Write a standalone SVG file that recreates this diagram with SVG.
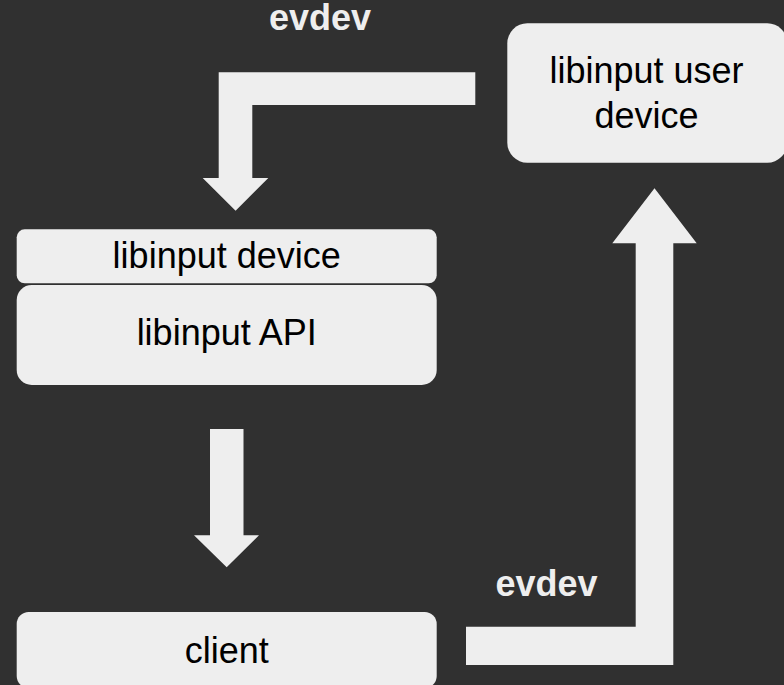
<svg xmlns="http://www.w3.org/2000/svg" width="784" height="685" viewBox="0 0 784 685">
  <style>
    .box { fill: #eeeeee; }
    .label { font-family: "Liberation Sans", Arial, sans-serif; font-size: 36px; fill: #000000; text-anchor: middle; }
    .edge-label { font-family: "Liberation Sans", Arial, sans-serif; font-size: 36px; font-weight: bold; fill: #eeeeee; text-anchor: middle; }
    .arrow { fill: #eeeeee; }
  </style>
  <rect x="0" y="0" width="784" height="685" fill="#303030"/>

  <g id="connectors">
    <!-- user device back into the libinput device stack -->
    <path class="arrow" d="M475.3,72.3 L218.7,72.3 L218.7,178 L202.7,178 L235.6,210.7 L268.3,178 L252.3,178 L252.3,105 L475.3,105 Z"/>
    <!-- libinput API down to the client -->
    <path class="arrow" d="M210,429 L243.5,429 L243.5,535.3 L259,535.3 L226.7,567.3 L194,535.3 L210,535.3 Z"/>
    <!-- client up to the user device -->
    <path class="arrow" d="M466,626.7 L635.7,626.7 L635.7,243.3 L612.3,243.3 L654.5,188.3 L696.7,243.3 L673.3,243.3 L673.3,665 L466,665 Z"/>
    <text class="edge-label" x="320" y="30">evdev</text>
    <text class="edge-label" x="546.5" y="595.7">evdev</text>
  </g>

  <g id="user-device">
    <rect class="box" x="507.3" y="23.3" width="280" height="139.4" rx="20"/>
    <text class="label" x="646.5" y="83">libinput user</text>
    <text class="label" x="646.5" y="128">device</text>
  </g>

  <g id="libinput-device">
    <rect class="box" x="16.7" y="229.3" width="420" height="54" rx="8"/>
    <text class="label" x="226.7" y="268.3">libinput device</text>
  </g>

  <g id="libinput-api">
    <rect class="box" x="16.7" y="285" width="420" height="100" rx="15"/>
    <text class="label" x="226.7" y="345">libinput API</text>
  </g>

  <g id="client">
    <rect class="box" x="16.7" y="612" width="420" height="76" rx="12"/>
    <text class="label" x="226.7" y="662.7">client</text>
  </g>
</svg>
